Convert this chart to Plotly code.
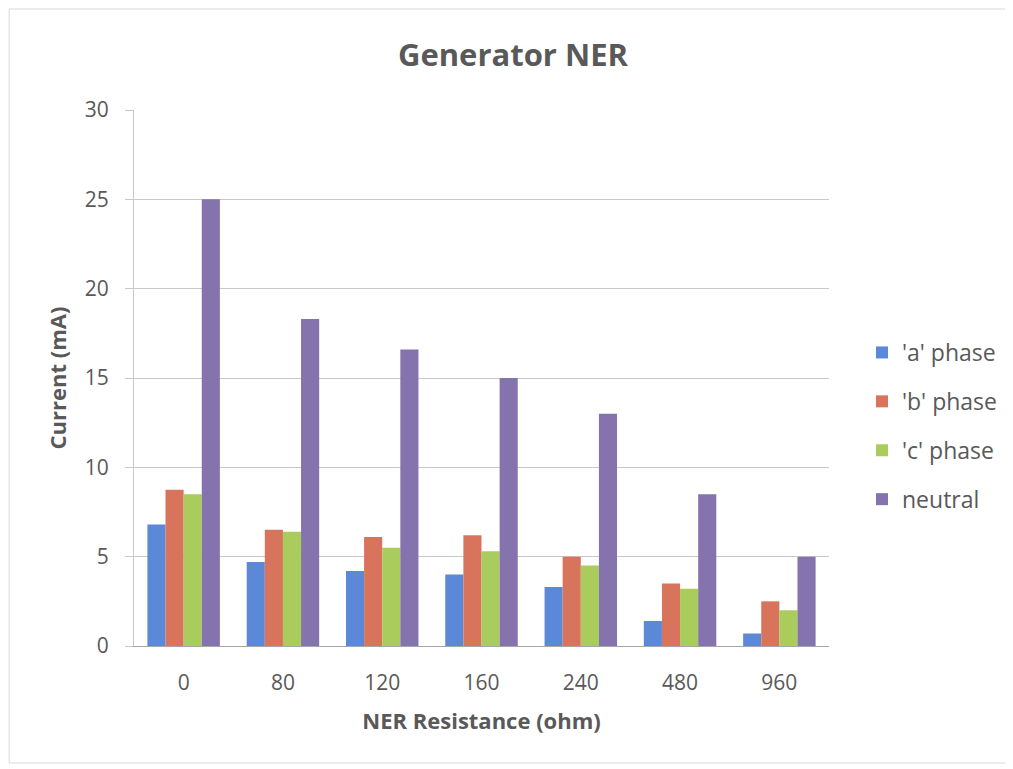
import plotly.graph_objects as go

categories = ["0", "80", "120", "160", "240", "480", "960"]
a_phase = [6.8, 4.7, 4.2, 4.0, 3.3, 1.4, 0.7]
b_phase = [8.75, 6.5, 6.1, 6.2, 5.0, 3.5, 2.5]
c_phase = [8.5, 6.4, 5.5, 5.3, 4.5, 3.2, 2.0]
neutral = [25.0, 18.3, 16.6, 15.0, 13.0, 8.5, 5.0]

series_names = ["'a' phase", "'b' phase", "'c' phase", "neutral"]
series_values = [a_phase, b_phase, c_phase, neutral]
colors = ["#5B89D8", "#D8735C", "#A9CC5C", "#8573AD"]

OFF = 8  # page body margin in the browser
W, H = 1005, 761
ml, mt = 126, 102
pw, ph = 696, 536
mr = W - ml - pw
mb = H - mt - ph

fig = go.Figure()
for i, (name, vals) in enumerate(zip(series_names, series_values)):
    fig.add_trace(go.Bar(
        x=categories, y=vals, name=name,
        marker=dict(color=colors[i], line=dict(width=0)),
        legendgroup=name,
    ))

font_family = "'Open Sans', sans-serif"
text_color = "#595959"

fig.update_layout(
    width=W, height=H,
    margin=dict(l=ml, r=mr, t=mt, b=mb),
    paper_bgcolor="white", plot_bgcolor="white",
    barmode="group", bargap=0.27, bargroupgap=0,
    font=dict(family=font_family, color=text_color, size=21),
    title=dict(text="<b>Generator NER</b>", xref="container", x=(513 - OFF) / W, xanchor="center",
               yref="container", y=1 - (55 - OFF) / H, yanchor="middle",
               font=dict(size=31, color=text_color, family=font_family)),
    legend=dict(x=(862 - OFF - ml) / pw, xanchor="left", y=(646 - 426) / ph, yanchor="middle",
                font=dict(size=23, color=text_color), tracegroupgap=16,
                itemwidth=30, bgcolor="rgba(0,0,0,0)"),
    xaxis=dict(
        type="category",
        showline=True, linecolor="#A6A6A6", linewidth=1,
        ticks="", showgrid=False,
        tickfont=dict(size=21, color=text_color),
        ticklabelstandoff=18,
        title=dict(text="<b>NER Resistance (ohm)</b>", font=dict(size=22, color=text_color), standoff=18),
    ),
    yaxis=dict(
        range=[0, 30], dtick=5,
        showline=True, linecolor="#C8C8C8", linewidth=1,
        showgrid=True, gridcolor="#C8C8C8", gridwidth=1,
        ticks="outside", ticklen=8, tickcolor="#C8C8C8",
        zeroline=False,
        tickfont=dict(size=21, color=text_color),
        ticklabelstandoff=12,
        title=dict(text="<b>Current (mA)</b>", font=dict(size=22, color=text_color), standoff=12),
    ),
)

# light outer border of the chart area
fig.add_shape(
    type="rect", xref="paper", yref="paper",
    x0=(9 - OFF - ml) / pw, x1=(1010 - OFF - ml) / pw,
    y0=(646 - 763) / ph, y1=(646 - 9) / ph,
    line=dict(color="#D9D9D9", width=1), fillcolor="rgba(0,0,0,0)", layer="below",
)

fig.write_html("out.html")
